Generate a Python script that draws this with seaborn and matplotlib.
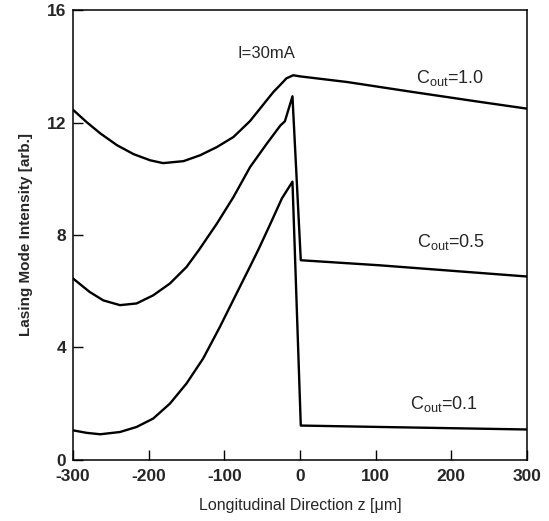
import pandas as pd
import seaborn as sns
import matplotlib
matplotlib.use('Agg')
import matplotlib.pyplot as plt

# values (z in um, intensity in arb. units)
z_10 = [-300, -282, -264, -242, -220, -198, -181, -154, -132, -110, -88, -66, -44, -35, -26, -18, -9,
        0, 62, 150, 238, 300]
I_10 = [12.46, 12.02, 11.62, 11.2, 10.88, 10.66, 10.56, 10.63, 10.84, 11.13, 11.49, 12.06, 12.80, 13.1, 13.35, 13.58, 13.69,
        13.65, 13.45, 13.09, 12.74, 12.50]

z_05 = [-300, -278, -260, -238, -216, -194, -172, -150, -134, -110, -88, -66, -44, -26, -20, -10, 1, 105, 300]
I_05 = [6.45, 5.97, 5.67, 5.50, 5.56, 5.85, 6.27, 6.86, 7.45, 8.40, 9.35, 10.42, 11.25, 11.90, 12.05, 12.94, 7.10, 6.92, 6.52]

z_01 = [-300, -282, -264, -238, -216, -194, -172, -150, -128, -106, -84, -66, -55, -40, -24, -10, 1, 105, 300]
I_01 = [1.04, 0.95, 0.90, 0.98, 1.16, 1.46, 1.99, 2.71, 3.60, 4.72, 5.91, 6.88, 7.48, 8.35, 9.30, 9.90, 1.21, 1.16, 1.07]

labels = ['C$_{out}$=1.0', 'C$_{out}$=0.5', 'C$_{out}$=0.1']
label_pos = [(198, 13.6), (199, 7.74), (190, 1.99)]

x_ticks = [-300, -200, -100, 0, 100, 200, 300]
y_ticks = [0, 4, 8, 12, 16]

sns.set_style('ticks')
plt.rcParams['font.family'] = ['Liberation Sans', 'DejaVu Sans']
plt.rcParams['mathtext.default'] = 'regular'
plt.rcParams['axes.unicode_minus'] = False

fig = plt.figure(figsize=(5.49, 5.21), dpi=100)
ax = fig.add_axes([0.133, 0.118, 0.827, 0.862])

for z, I in [(z_10, I_10), (z_05, I_05), (z_01, I_01)]:
    sns.lineplot(x=z, y=I, ax=ax, color='black', linewidth=1.7, sort=False, estimator=None)

for txt, (x, y) in zip(labels, label_pos):
    ax.text(x, y, txt, ha='center', va='center', fontsize=13)
ax.text(-45, 14.46, 'I=30mA', ha='center', va='center', fontsize=12)

ax.set_xlim(-300, 300)
ax.set_ylim(0, 16)
ax.set_xticks(x_ticks)
ax.set_yticks(y_ticks)
ax.tick_params(direction='in', length=7, width=1, labelsize=12.5, color='black')
ax.tick_params(axis='x', pad=7)
ax.tick_params(axis='y', pad=5)
for lab in ax.get_xticklabels() + ax.get_yticklabels():
    lab.set_fontweight('bold')
for s in ax.spines.values():
    s.set_linewidth(1.1)
    s.set_color('black')

ax.set_xlabel('Longitudinal Direction z [\u03bcm]', fontsize=11.5, labelpad=10)
ax.set_ylabel('Lasing Mode Intensity [arb.]', fontsize=11, fontweight='bold', labelpad=10)

fig.savefig('out.png', dpi=100)
